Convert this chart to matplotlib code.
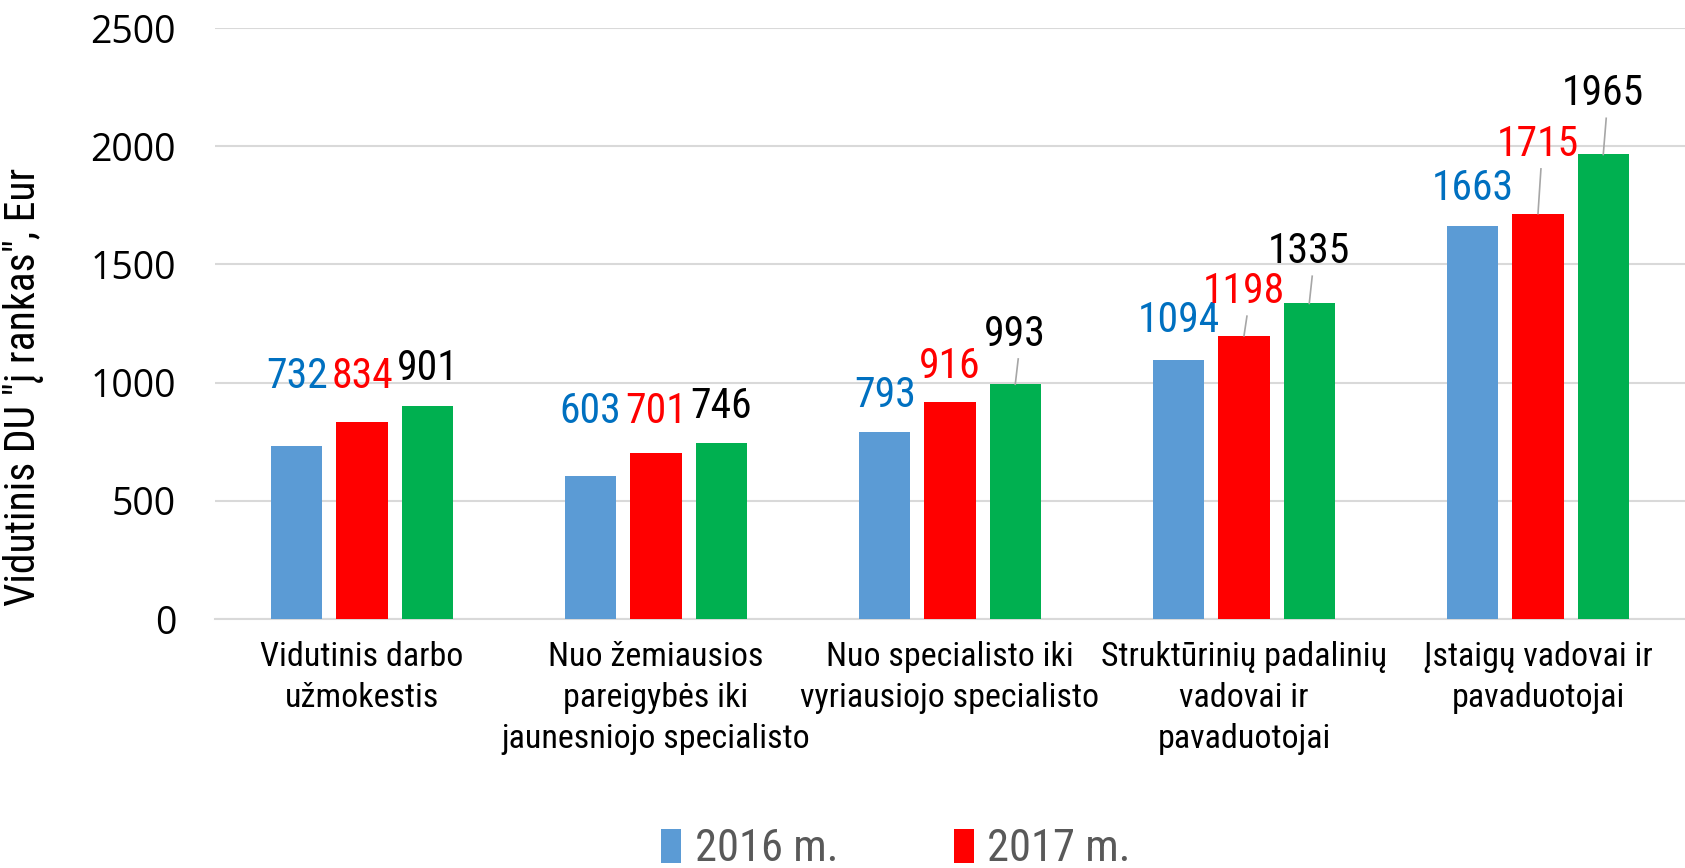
import numpy as np
import matplotlib
matplotlib.use("Agg")
import matplotlib.pyplot as plt
from matplotlib import font_manager

# data
categories = ["Vidutinis darbo\nužmokestis",
              "Nuo žemiausios\npareigybės iki\njaunesniojo specialisto",
              "Nuo specialisto iki\nvyriausiojo specialisto",
              "Struktūrinių padalinių\nvadovai ir\npavaduotojai",
              "Įstaigų vadovai ir\npavaduotojai"]
y2016 = [732, 603, 793, 1094, 1663]
y2017 = [834, 701, 916, 1198, 1715]
y2018 = [901, 746, 993, 1335, 1965]
series_names = ["2016 m.", "2017 m.", "2018 m."]

# label placement (value-axis height of label centre)
lab_y = [[1027, 877, 945, 1264, 1823],
         [1027, 877, 1068, 1386, 2009],
         [1059, 900, 1205, 1555, 2223]]
# which labels have a leader line
leader = [[0, 0, 0, 0, 0],
          [0, 0, 0, 1, 1],
          [0, 0, 1, 1, 1]]

colors = ["#5B9BD5", "#FF0000", "#00B050"]
lab_colors = ["#0070C0", "#FF0000", "#000000"]


def pick_font(names):
    for n in names:
        try:
            font_manager.findfont(n, fallback_to_default=False)
            return n
        except ValueError:
            pass
    return "DejaVu Sans"


narrow = [pick_font(["Liberation Sans Narrow", "Roboto Condensed", "Lato"]), "DejaVu Sans"]
wide = [pick_font(["Open Sans", "DejaVu Sans"]), "DejaVu Sans"]

fig = plt.figure(figsize=(16.85, 8.68), dpi=100)
ax = fig.add_axes([215/1685, 1-619/868, 1-215/1685, (619-28)/868])

x = np.arange(len(categories))
w = 0.175
step = 0.222
bars = []
for i, vals in enumerate([y2016, y2017, y2018]):
    b = ax.bar(x + (i-1)*step, vals, w, color=colors[i], label=series_names[i], zorder=3)
    bars.append(b)
    for j, v in enumerate(vals):
        xc = x[j] + (i-1)*step
        ax.text(xc, lab_y[i][j], str(v), ha="center", va="center", fontsize=30,
                family=narrow, color=lab_colors[i], zorder=4)
        if leader[i][j]:
            ax.plot([xc + 0.01, xc], [lab_y[i][j] - 105, v], color="#A6A6A6", lw=1.2, zorder=4)

ax.set_xlim(-0.5, 4.5)
ax.set_ylim(0, 2500)
ax.set_yticks([0, 500, 1000, 1500, 2000, 2500])
ax.set_xticks(x)
ax.set_xticklabels(categories, family=narrow, fontsize=24.5, linespacing=1.35)
ax.tick_params(axis="x", length=0, pad=16)
ax.tick_params(axis="y", length=0, pad=28, labelsize=27)
for t in ax.get_yticklabels():
    t.set_family(wide)
ax.grid(axis="y", color="#D9D9D9", lw=1.5, zorder=0)
for s in ["top", "right", "left"]:
    ax.spines[s].set_visible(False)
ax.spines["bottom"].set_color("#D9D9D9")
ax.spines["bottom"].set_linewidth(1.5)

fig.text(24/1685, 1-387/868, 'Vidutinis DU "į rankas", Eur', rotation=90, ha="center", va="center",
         fontsize=30, family=narrow)

leg = fig.legend(handles=[bars[0], bars[1]], loc="center", bbox_to_anchor=(896/1685, 1-849/868),
                 ncol=2, frameon=False, prop={"family": narrow, "size": 32},
                 handlelength=0.45, handleheight=0.8, columnspacing=2.6, handletextpad=0.3)
for t in leg.get_texts():
    t.set_color("#595959")

fig.savefig("out.png", dpi=100)
